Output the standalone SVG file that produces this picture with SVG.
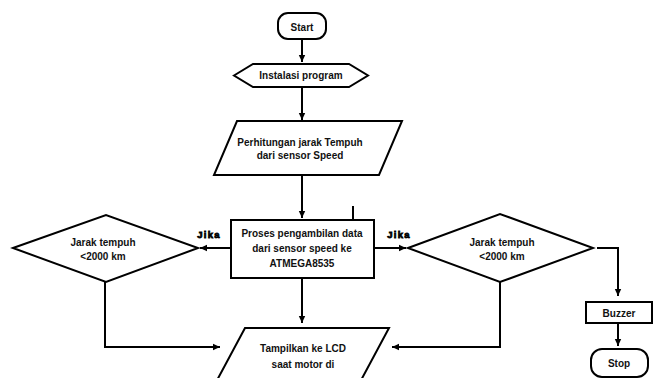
<svg xmlns="http://www.w3.org/2000/svg" width="656" height="378" viewBox="0 0 656 378">
<defs>
<marker id="arr" markerWidth="8" markerHeight="8" refX="7" refY="4" orient="auto" markerUnits="userSpaceOnUse">
<path d="M0,0.8 L7,4 L0,7.2 Z" fill="#000"/>
</marker>
<style>
.s{fill:#fff;stroke:#000;stroke-width:2}
.c{fill:none;stroke:#000;stroke-width:2}
.t{font-family:"Liberation Sans",Arial,sans-serif;font-size:10px;font-weight:bold;fill:#111;text-anchor:middle}
.j{font-family:"Liberation Sans",Arial,sans-serif;font-size:9.5px;font-weight:900;letter-spacing:1.2px;fill:#000;stroke:#000;stroke-width:0.8;text-anchor:middle}
</style>
</defs>
<rect width="656" height="378" fill="#fff"/>
<g id="connectors">
<line class="c" x1="302" y1="39" x2="302" y2="62" marker-end="url(#arr)"/>
<line class="c" x1="302" y1="87" x2="302" y2="120" marker-end="url(#arr)"/>
<line class="c" x1="302" y1="175" x2="302" y2="218" marker-end="url(#arr)"/>
<line class="c" x1="353" y1="206" x2="353" y2="219"/>
<line class="c" x1="231" y1="248" x2="200" y2="248" marker-end="url(#arr)"/>
<line class="c" x1="374" y1="248" x2="406" y2="248" marker-end="url(#arr)"/>
<line class="c" x1="302" y1="278" x2="302" y2="323" marker-end="url(#arr)"/>
<polyline class="c" points="105,282 105,347 220,347" marker-end="url(#arr)"/>
<polyline class="c" points="500,282 500,347 392,347" marker-end="url(#arr)"/>
<polyline class="c" points="597,248 618,248 618,296" marker-end="url(#arr)"/>
<line class="c" x1="618" y1="323" x2="618" y2="346" marker-end="url(#arr)"/>
<text class="j" x="209" y="238">Jika</text>
<text class="j" x="399" y="238">Jika</text>
</g>
<g id="start">
<rect class="s" x="278" y="13" width="48" height="26" rx="10"/>
<text class="t" x="302" y="30.5">Start</text>
</g>
<g id="instalasi">
<polygon class="s" points="234,75.5 253,64 349,64 368,75.5 349,87 253,87"/>
<text class="t" x="301" y="79">Instalasi program</text>
</g>
<g id="perhitungan">
<polygon class="s" points="237,121 402,121 379,175 214,175"/>
<text class="t" x="300" y="146">Perhitungan jarak Tempuh</text>
<text class="t" x="300" y="159">dari sensor Speed</text>
</g>
<g id="proses">
<rect class="s" x="231" y="220" width="143" height="58"/>
<text class="t" x="302" y="237">Proses pengambilan data</text>
<text class="t" x="302" y="252">dari sensor speed ke</text>
<text class="t" x="302" y="267">ATMEGA8535</text>
</g>
<g id="jarak-left">
<polygon class="s" points="13,248 106,215 198,248 106,282"/>
<text class="t" x="103" y="246">Jarak tempuh</text>
<text class="t" x="103" y="260">&lt;2000 km</text>
</g>
<g id="jarak-right">
<polygon class="s" points="408,248 500,214 593,248 500,282"/>
<text class="t" x="502" y="246">Jarak tempuh</text>
<text class="t" x="502" y="260">&lt;2000 km</text>
</g>
<g id="tampilkan">
<polygon class="s" points="245,328 389,328 359,384 215,384"/>
<text class="t" x="303" y="352">Tampilkan ke LCD</text>
<text class="t" x="303" y="368">saat motor di</text>
</g>
<g id="buzzer">
<rect class="s" x="586" y="302" width="66" height="21"/>
<text class="t" x="619" y="316.5">Buzzer</text>
</g>
<g id="stop">
<rect class="s" x="591" y="349" width="57" height="28" rx="11"/>
<text class="t" x="619" y="367">Stop</text>
</g>
</svg>
